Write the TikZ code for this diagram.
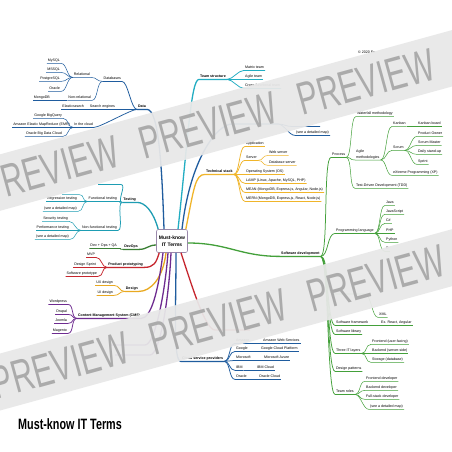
\documentclass[tikz,border=0pt]{standalone}
\usepackage{fontspec}
\usepackage{graphicx}
\setmainfont{Liberation Sans}
\usetikzlibrary{calc}
\definecolor{dblue}{HTML}{1F5C9E}
\definecolor{teal1}{HTML}{1E9DB3}
\definecolor{teal2}{HTML}{22ADC2}
\definecolor{dgreen}{HTML}{3A7F34}
\definecolor{sgreen}{HTML}{43A03A}
\definecolor{red1}{HTML}{C6262E}
\definecolor{gold1}{HTML}{E9A920}
\definecolor{gold2}{HTML}{F0B52A}
\definecolor{purp}{HTML}{6E2B90}
\definecolor{bandgray}{HTML}{E8E8E8}
\definecolor{wmgray}{HTML}{ABABAB}
\definecolor{ctrline}{HTML}{9A88AA}
\tikzset{
  lf/.style={font=\fontsize{3.6}{4.3}\selectfont, inner xsep=0.9pt, inner ysep=0.5pt, text height=2.6pt, text depth=0.8pt},
  mn/.style={lf, font=\bfseries\fontsize{3.6}{4.3}\selectfont},
  rb/.style={out=0,in=180,out distance=6pt,in distance=6pt},
  lb/.style={out=180,in=0,out distance=6pt,in distance=6pt},
  tr/.style={out=0,in=180,out distance=8pt,in distance=8pt},
  w1/.style={line width=0.5pt},
  w2/.style={line width=0.75pt},
  w3/.style={line width=1.3pt},
  ctr/.style={draw=ctrline, line width=0.6pt, rounded corners=2pt, fill=white, minimum width=31pt, minimum height=23pt, align=center, font=\bfseries\fontsize{5}{7.5}\selectfont, inner sep=1pt},
  wm/.style={text=wmgray, font=\fontsize{46}{48}\selectfont, inner sep=0pt, rotate=15.38},
}
\newcommand{\wmword}{\scalebox{0.66}[1]{PREVIEW}}
\begin{document}
\begin{tikzpicture}[x=1pt,y=-1pt]
\useasboundingbox (0,0) rectangle (452,452);
\clip (0,0) rectangle (452,452);
\fill[white] (0,0) rectangle (452,452);

% ---------- nodes ----------
\node[ctr] (c) at (172,241) {Must-know\\IT Terms};

% Data
\node[mn,anchor=east] (data) at (147,107) {Data};
\node[lf,anchor=east] (dbs) at (122,79) {Databases};
\node[lf,anchor=east] (rel) at (91,75) {Relational};
\node[lf,anchor=east] (nrel) at (92,98) {Non-relational};
\node[lf,anchor=east] (mysql) at (61,61) {MySQL};
\node[lf,anchor=east] (mssql) at (61,70) {MSSQL};
\node[lf,anchor=east] (pg) at (61,79) {PostgreSQL};
\node[lf,anchor=east] (ora) at (61,89) {Oracle};
\node[lf,anchor=east] (mongo) at (51,98) {MongoDB};
\node[lf,anchor=east] (srch) at (116,107) {Search engines};
\node[lf,anchor=east] (elas) at (85,107) {Elasticsearch};
\node[lf,anchor=east] (cloud) at (94,125) {In the cloud};
\node[lf,anchor=east] (bq) at (63,116) {Google BigQuery};
\node[lf,anchor=east] (emr) at (71,125) {Amazon Elastic MapReduce (EMR)};
\node[lf,anchor=east] (obd) at (63,134) {Oracle Big Data Cloud};

% Testing
\node[mn,anchor=east] (test) at (137,200) {Testing};
\coordinate (ut1) at (121,184.5);
\coordinate (ut2) at (98,184.5);
\node[lf,anchor=east] (func) at (118,199) {Functional testing};
\coordinate (ft1) at (79,194.5);
\coordinate (ft2) at (62,194.5);
\node[lf,anchor=east] (regr) at (78,199) {Regression testing};
\node[lf,anchor=east] (sdm1) at (78,209) {(see a detailed map)};
\node[lf,anchor=east] (nfunc) at (118,228) {Non-functional testing};
\node[lf,anchor=east] (sec) at (69,219) {Security testing};
\node[lf,anchor=east] (perf) at (70,228) {Performance testing};
\node[lf,anchor=east] (sdm2) at (70,237) {(see a detailed map)};

% DevOps
\node[mn,anchor=east] (devops) at (139,247) {DevOps};
\node[lf,anchor=east] (dopq) at (118,246) {Dev + Ops + QA};

% Product prototyping
\node[mn,anchor=east] (proto) at (144,265) {Product prototyping};
\node[lf,anchor=east] (mvp) at (96,255) {MVP};
\node[lf,anchor=east] (dsp) at (97,265) {Design Sprint};
\node[lf,anchor=east] (swp) at (98,274) {Software prototype};

% Design
\node[mn,anchor=east] (design) at (139,289) {Design};
\node[lf,anchor=east] (ux) at (114,283) {UX design};
\node[lf,anchor=east] (ui) at (114,293) {UI design};

% CMS
\node[mn,anchor=east] (cms) at (141,316) {Content Management System (CMS)};
\node[lf,anchor=east] (wp) at (68,302) {Wordpress};
\node[lf,anchor=east] (dru) at (68,312) {Drupal};
\node[lf,anchor=east] (joo) at (68,321) {Joomla};
\node[lf,anchor=east] (mag) at (68,331) {Magento};
\coordinate (ph1a) at (145,345);
\coordinate (ph1b) at (110,345);
\coordinate (ph2a) at (150,355);
\coordinate (ph2b) at (115,355);

% Team structure
\node[mn,anchor=west] (team) at (199,77) {Team structure};
\node[lf,anchor=west] (matrix) at (244,68) {Matrix team};
\node[lf,anchor=west] (agteam) at (244,77) {Agile team};
\node[lf,anchor=west] (cross) at (244,86) {Cross-functional team};

% hidden blue branch
\coordinate (hbA) at (232,124);
\coordinate (hbB) at (278,124);
\coordinate (hl1) at (292,126.5);
\coordinate (hl2) at (320,126.5);
\node[lf,anchor=west] (sdmT) at (295,133) {(see a detailed map)};

% Technical stack
\node[mn,anchor=west] (tech) at (205,172) {Technical stack};
\node[lf,anchor=west] (app) at (245,144) {Application};
\node[lf,anchor=west] (server) at (245,158) {Server};
\node[lf,anchor=west] (websrv) at (268,153) {Web server};
\node[lf,anchor=west] (dbsrv) at (268,163) {Database server};
\node[lf,anchor=west] (os) at (245,172) {Operating System (OS)};
\node[lf,anchor=west] (lamp) at (245,181) {LAMP (Linux, Apache, MySQL, PHP)};
\node[lf,anchor=west] (mean) at (245,190) {MEAN (MongoDB, Express.js, Angular, Node.js)};
\node[lf,anchor=west] (mern) at (245,199) {MERN (MongoDB, Express.js, React, Node.js)};

% Software development
\node[mn,anchor=west] (swdev) at (280,254) {Software development};
\node[lf,anchor=west] (proc) at (331,155) {Process};
\node[lf,anchor=west] (wf) at (356,114) {Waterfall methodology};
\node[font=\fontsize{3.6}{6}\selectfont, inner xsep=0.9pt, inner ysep=0.5pt, align=left, anchor=south west] (agm) at (355,160) {Agile\\methodologies};
\node[lf,anchor=west] (kan) at (392,124) {Kanban};
\node[lf,anchor=west] (kb) at (417,124) {Kanban board};
\node[lf,anchor=west] (scrum) at (392,148) {Scrum};
\node[lf,anchor=west] (po) at (417,134) {Product Owner};
\node[lf,anchor=west] (smast) at (417,143) {Scrum Master};
\node[lf,anchor=west] (daily) at (417,152) {Daily stand-up};
\node[lf,anchor=west] (spr) at (417,162) {Sprint};
\node[lf,anchor=west] (xp) at (392,173) {eXtreme Programming (XP)};
\node[lf,anchor=west] (tdd) at (355,186) {Test-Driven Development (TDD)};
\node[lf,anchor=west] (pl) at (335,231) {Programming language};
\node[lf,anchor=west] (java) at (385,203) {Java};
\node[lf,anchor=west] (jscr) at (385,212) {JavaScript};
\node[lf,anchor=west] (cs) at (385,221) {C\#};
\node[lf,anchor=west] (php) at (385,231) {PHP};
\node[lf,anchor=west] (py) at (385,240) {Python};
\node[lf,anchor=west] (rl) at (385,249) {R};
\coordinate (hgA) at (333,294);
\coordinate (hgB) at (365,294);
\node[lf,anchor=west] (xml) at (378,315) {XML};
\node[lf,anchor=west] (swfw) at (335,323) {Software framework};
\node[lf,anchor=west] (exra) at (380,323) {Ex. React, Angular};
\node[lf,anchor=west] (swlib) at (335,332) {Software library};
\node[lf,anchor=west] (layers) at (335,351) {Three IT layers};
\node[lf,anchor=west] (fe) at (371,342) {Frontend (user-facing)};
\node[lf,anchor=west] (be) at (371,351) {Backend (server-side)};
\node[lf,anchor=west] (stor) at (371,360) {Storage (database)};
\node[lf,anchor=west] (dp) at (335,369) {Design patterns};
\node[lf,anchor=west] (roles) at (335,392) {Team roles};
\node[lf,anchor=west] (fed) at (365,379) {Frontend developer};
\node[lf,anchor=west] (bed) at (365,388) {Backend developer};
\node[lf,anchor=west] (fsd) at (365,397) {Full-stack developer};
\node[lf,anchor=west] (sdm3) at (369,407) {(see a detailed map)};

% Cloud service providers
\node[mn,anchor=west] (csp) at (181,359) {Cloud service providers};
\node[lf,anchor=west] (amz) at (235,341) {Amazon};
\node[lf,anchor=west] (aws) at (262,341) {Amazon Web Services};
\node[lf,anchor=west] (goo) at (235,349) {Google};
\node[lf,anchor=west] (gcp) at (260,349) {Google Cloud Platform};
\node[lf,anchor=west] (ms) at (235,358) {Microsoft};
\node[lf,anchor=west] (az) at (263,358) {Microsoft Azure};
\node[lf,anchor=west] (ibm) at (235,368) {IBM};
\node[lf,anchor=west] (ibmc) at (256,368) {IBM Cloud};
\node[lf,anchor=west] (orc) at (235,377) {Oracle};
\node[lf,anchor=west] (orcc) at (258,377) {Oracle Cloud};
\coordinate (rh1) at (215,330);
\coordinate (rh2) at (250,330);

\node[lf,anchor=west] (copy) at (357,53) {© 2020 Ev};
\node[anchor=west, inner sep=0pt, font=\bfseries\fontsize{15}{17}\selectfont] (title) at (18,424) {\scalebox{0.72}[1]{Must-know IT Terms}};

% ---------- main connectors ----------
\draw[w3,dblue] ($(c.north)+(-8,0)$) .. controls +(-2,-60) and +(12,0) .. (data.south east) -- (data.south west);
\draw[w3,teal1] ($(c.north west)+(2,0)$) .. controls +(-5,-18) and +(8,0) .. (test.south east) -- (test.south west);
\draw[w3,dgreen] ($(c.west)+(0,4)$) .. controls +(-8,0) and +(8,0) .. (devops.south east) -- (devops.south west);
\draw[w3,red1] ($(c.south west)+(3,0)$) .. controls +(-3,10) and +(10,0) .. (proto.south east) -- (proto.south west);
\draw[w3,gold1] ($(c.south)+(-6,0)$) .. controls +(-3,25) and +(12,0) .. (design.south east) -- (design.south west);
\draw[w3,purp] ($(c.south)+(-9,0)$) .. controls +(-5,40) and +(10,0) .. (cms.south east) -- (cms.south west);
\draw[w3,purp] ($(c.south)+(-4,0)$) .. controls +(-3,40) and +(10,0) .. (ph1a) -- (ph1b);
\draw[w3,purp] ($(c.south)+(-1,0)$) .. controls +(-2,45) and +(10,0) .. (ph2a) -- (ph2b);
\draw[w3,dblue] ($(c.south)+(4,0)$) .. controls +(0,60) and +(-8,0) .. (csp.south west) -- (csp.south east);
\draw[w3,red1] ($(c.south)+(9,0)$) .. controls +(10,30) and +(-10,0) .. (rh1) -- (rh2);
\draw[w3,teal2] ($(c.north)+(6,0)$) .. controls +(10,-90) and +(-8,0) .. (team.south west) -- (team.south east);
\draw[w3,dblue] ($(c.north)+(10,0)$) .. controls +(8,-70) and +(-15,0) .. (hbA) -- (hbB);
\draw[w3,gold2] ($(c.north east)+(-2,0)$) .. controls +(8,-40) and +(-10,0) .. (tech.south west) -- (tech.south east);
\draw[w3,sgreen] ($(c.east)+(0,2)$) .. controls +(40,0) and +(-40,0) .. (swdev.south west) -- (swdev.south east);

% ---------- left subtrees ----------
\foreach \k in {dbs,srch,cloud} \draw[w2,dblue] (data.south west) to[lb] (\k.south east) -- (\k.south west);
\foreach \k in {rel,nrel} \draw[w1,dblue] (dbs.south west) to[lb] (\k.south east) -- (\k.south west);
\foreach \k in {mysql,mssql,pg,ora} \draw[w1,dblue] (rel.south west) to[lb] (\k.south east) -- (\k.south west);
\draw[w1,dblue] (nrel.south west) to[lb] (mongo.south east) -- (mongo.south west);
\draw[w1,dblue] (srch.south west) to[lb] (elas.south east) -- (elas.south west);
\foreach \k in {bq,emr,obd} \draw[w1,dblue] (cloud.south west) to[lb] (\k.south east) -- (\k.south west);

\draw[w2,teal1] (test.south west) to[lb] (ut1) -- (ut2);
\foreach \k in {func,nfunc} \draw[w2,teal1] (test.south west) to[lb] (\k.south east) -- (\k.south west);
\draw[w1,teal1] (func.south west) to[lb] (ft1) -- (ft2);
\foreach \k in {regr,sdm1} \draw[w1,teal1] (func.south west) to[lb] (\k.south east) -- (\k.south west);
\foreach \k in {sec,perf,sdm2} \draw[w1,teal1] (nfunc.south west) to[lb] (\k.south east) -- (\k.south west);

\draw[w2,dgreen] (devops.south west) to[lb] (dopq.south east) -- (dopq.south west);
\foreach \k in {mvp,dsp,swp} \draw[w2,red1] (proto.south west) to[lb] (\k.south east) -- (\k.south west);
\foreach \k in {ux,ui} \draw[w2,gold1] (design.south west) to[lb] (\k.south east) -- (\k.south west);
\foreach \k in {wp,dru,joo,mag} \draw[w2,purp] (cms.south west) to[lb] (\k.south east) -- (\k.south west);

% ---------- right subtrees ----------
\foreach \k in {matrix,agteam,cross} \draw[w2,teal2] (team.south east) to[rb] (\k.south west) -- (\k.south east);
\draw[w2,dblue] (hbB) to[rb] (hl1) -- (hl2);
\draw[w2,dblue] (hbB) to[rb] (sdmT.south west) -- (sdmT.south east);

\foreach \k in {app,server,os,lamp,mean,mern} \draw[w2,gold2] (tech.south east) to[rb] (\k.south west) -- (\k.south east);
\foreach \k in {websrv,dbsrv} \draw[w1,gold2] (server.south east) to[rb] (\k.south west) -- (\k.south east);

\foreach \k in {proc,pl,swfw,swlib,layers,dp,roles} \draw[w2,sgreen] (swdev.south east) to[tr] (\k.south west) -- (\k.south east);
\draw[w2,sgreen] (swdev.south east) to[tr] (hgA) -- (hgB);
\foreach \k in {wf,tdd} \draw[w1,sgreen] (proc.south east) to[rb] (\k.south west) -- (\k.south east);
\draw[w1,sgreen] (proc.south east) to[rb] (agm.south west) -- (agm.south east);
\foreach \k in {kan,scrum,xp} \draw[w1,sgreen] (agm.south east) to[rb] (\k.south west) -- (\k.south east);
\draw[w1,sgreen] (kan.south east) to[rb] (kb.south west) -- (kb.south east);
\foreach \k in {po,smast,daily,spr} \draw[w1,sgreen] (scrum.south east) to[rb] (\k.south west) -- (\k.south east);
\foreach \k in {java,jscr,cs,php,py,rl} \draw[w1,sgreen] (pl.south east) to[rb] (\k.south west) -- (\k.south east);
\draw[w1,sgreen] (hgB) to[rb] (xml.south west) -- (xml.south east);
\draw[w1,sgreen] (swfw.south east) to[rb] (exra.south west) -- (exra.south east);
\foreach \k in {fe,be,stor} \draw[w1,sgreen] (layers.south east) to[rb] (\k.south west) -- (\k.south east);
\foreach \k in {fed,bed,fsd,sdm3} \draw[w1,sgreen] (roles.south east) to[rb] (\k.south west) -- (\k.south east);

\foreach \k in {amz,goo,ms,ibm,orc} \draw[w2,dblue] (csp.south east) to[rb] (\k.south west) -- (\k.south east);
\draw[w1,dblue] (amz.south east) to[rb] (aws.south west) -- (aws.south east);
\draw[w1,dblue] (goo.south east) to[rb] (gcp.south west) -- (gcp.south east);
\draw[w1,dblue] (ms.south east) to[rb] (az.south west) -- (az.south east);
\draw[w1,dblue] (ibm.south east) to[rb] (ibmc.south west) -- (ibmc.south east);
\draw[w1,dblue] (orc.south east) to[rb] (orcc.south west) -- (orcc.south east);

% ---------- watermark bands ----------
\fill[bandgray,opacity=0.94] (-5,155.75) -- (460,27.9) -- (460,84.3) -- (-5,212.2) -- cycle;
\fill[bandgray,opacity=0.94] (-5,354.9) -- (460,227) -- (460,284) -- (-5,411.9) -- cycle;
\node[wm] (wa1) at (50,168.9) {\wmword};
\node[wm] (wa2) at (208,125.4) {\wmword};
\node[wm] (wa3) at (366,82.0) {\wmword};
\node[wm] (wb1) at (60,365.5) {\wmword};
\node[wm] (wb2) at (218,322.1) {\wmword};
\node[wm] (wb3) at (376,278.6) {\wmword};
\end{tikzpicture}
\end{document}
